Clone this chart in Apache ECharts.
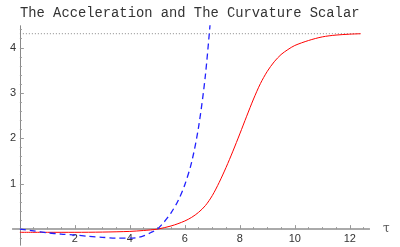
<!DOCTYPE html>
<html><head><meta charset="utf-8">
<script src="https://cdn.jsdelivr.net/npm/echarts@6/dist/echarts.min.js"></script>
<style>html,body{margin:0;padding:0;background:#fff}#c{width:400px;height:247px}</style>
</head><body><div id="c"></div>
<script>
const titleText = "The Acceleration and The Curvature Scalar";
const xMajor = [2,4,6,8,10,12];
const xMinor = [0.5,1,1.5,2.5,3,3.5,4.5,5,5.5,6.5,7,7.5,8.5,9,9.5,10.5,11,11.5,12.5];
const yMajor = [1,2,3,4];
const yMinor = [-0.2,0.2,0.4,0.6,0.8,1.2,1.4,1.6,1.8,2.2,2.4,2.6,2.8,3.2,3.4,3.6,3.8,4.2,4.4];
const redTau = [0,1,2,3,4,4.5,5,5.5,5.75,6,6.25,6.5,6.75,7,7.25,7.5,7.75,8,8.25,8.5,8.75,9,9.25,9.5,9.75,10,10.5,11,11.5,12,12.4];
const redVal = [-0.07,-0.07,-0.07,-0.065,-0.05,-0.03,0.0,0.07,0.12,0.18,0.26,0.37,0.52,0.74,1.03,1.36,1.72,2.1,2.49,2.87,3.21,3.48,3.69,3.85,3.96,4.05,4.16,4.24,4.28,4.3,4.31];
const blueTau = [0,0.5,1,1.5,2,2.5,3,3.5,4,4.25,4.5,4.75,5,5.25,5.5,5.75,6,6.25,6.5,6.75,7.0];
const blueVal = [0,-0.04,-0.08,-0.11,-0.13,-0.16,-0.18,-0.2,-0.2,-0.19,-0.15,-0.08,0.0,0.16,0.36,0.62,0.98,1.48,2.25,3.4,5.1];
const refTau = [0,12.4];
const refVal = [4.31,4.31];
const zip = (a,b)=>a.map((v,i)=>[v,b[i]]);
const chart = echarts.init(document.getElementById('c'));
const tickCol = '#999';
const xBase = {type:'value',min:-0.25,max:12.7,splitLine:{show:false}};
const yBase = {type:'value',min:-0.35,max:4.48,splitLine:{show:false}};
const labelFont = {fontFamily:'Liberation Sans',fontSize:11,color:'#333'};
chart.setOption({
  animation:false,
  title:{text:titleText,left:20,top:6,padding:0,textStyle:{fontFamily:'Liberation Mono',fontSize:13.8,fontWeight:'normal',color:'#333'}},
  grid:{left:13,right:31,top:26,bottom:2,containLabel:false,outerBoundsMode:'none'},
  xAxis:[
    Object.assign({},xBase,{
      name:'τ',nameLocation:'end',nameGap:14,nameTextStyle:{fontFamily:'DejaVu Serif',fontSize:12,color:'#555',verticalAlign:'middle'},
      axisLine:{onZero:true,onZeroAxisIndex:0,lineStyle:{color:'#aaaaaa',width:2}},
      axisTick:{inside:true,length:4,customValues:xMajor,lineStyle:{color:tickCol}},
      axisLabel:{show:false}}),
    Object.assign({},xBase,{
      position:'bottom',
      axisLine:{onZero:true,onZeroAxisIndex:0,lineStyle:{color:'#aaaaaa',width:2}},
      axisTick:{inside:true,length:2,customValues:xMinor,lineStyle:{color:tickCol}},
      axisLabel:{show:false}}),
    Object.assign({},xBase,{
      position:'bottom',offset:-16,
      axisLine:{show:false,onZero:false},
      axisTick:{show:false},
      axisLabel:Object.assign({margin:4,customValues:xMajor},labelFont)})
  ],
  yAxis:[
    Object.assign({},yBase,{
      axisLine:{onZero:true,onZeroAxisIndex:0,lineStyle:{color:'#888',width:1}},
      axisTick:{inside:true,length:4,customValues:yMajor,lineStyle:{color:tickCol}},
      axisLabel:{show:false}}),
    Object.assign({},yBase,{
      position:'left',
      axisLine:{onZero:true,onZeroAxisIndex:0,lineStyle:{color:'#888',width:1}},
      axisTick:{inside:true,length:2,customValues:yMinor,lineStyle:{color:tickCol}},
      axisLabel:{show:false}}),
    Object.assign({},yBase,{
      position:'left',offset:-7,
      axisLine:{show:false,onZero:false},
      axisTick:{show:false},
      axisLabel:Object.assign({margin:4,customValues:yMajor},labelFont)})
  ],
  series:[
    {type:'line',data:zip(refTau,refVal),symbol:'none',lineStyle:{color:'#888',width:1,type:[1,2]}},
    {type:'line',data:zip(redTau,redVal),symbol:'none',smooth:0.3,lineStyle:{color:'#ff0000',width:1}},
    {type:'line',data:zip(blueTau,blueVal),symbol:'none',smooth:0.3,lineStyle:{color:'#2020ff',width:1.3,type:[6,4]}}
  ]
});
</script></body></html>
